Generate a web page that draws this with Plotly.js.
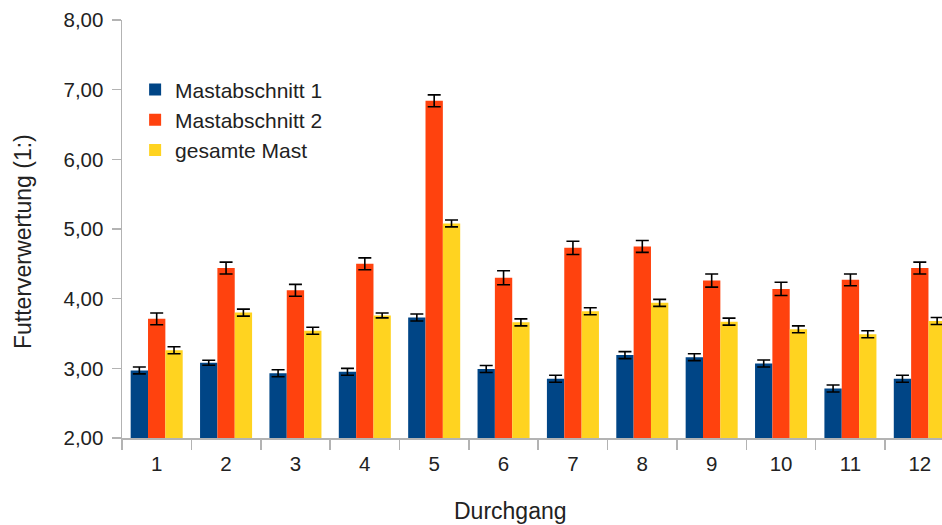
<!DOCTYPE html>
<html>
<head>
<meta charset="utf-8">
<script src="https://cdn.plot.ly/plotly-3.0.1.min.js"></script>
<style>html,body{margin:0;padding:0;background:#fff;}#chart{width:942px;height:525px;}</style>
</head>
<body>
<div id="chart"></div>
<script>
// Data
const categories = ['1','2','3','4','5','6','7','8','9','10','11','12'];
const seriesNames = ['Mastabschnitt 1', 'Mastabschnitt 2', 'gesamte Mast'];
const mast1 = [2.97, 3.08, 2.93, 2.95, 3.73, 2.99, 2.85, 3.19, 3.16, 3.07, 2.71, 2.85];
const mast1Err = [0.05, 0.035, 0.05, 0.05, 0.05, 0.05, 0.05, 0.05, 0.05, 0.05, 0.05, 0.05];
const mast2 = [3.71, 4.44, 4.12, 4.50, 6.84, 4.30, 4.73, 4.75, 4.26, 4.14, 4.27, 4.44];
const mast2Err = [0.085, 0.085, 0.085, 0.085, 0.085, 0.1, 0.095, 0.085, 0.095, 0.095, 0.085, 0.085];
const gesamt = [3.26, 3.80, 3.54, 3.76, 5.08, 3.66, 3.82, 3.94, 3.67, 3.56, 3.49, 3.68];
const gesamtErr = [0.05, 0.05, 0.05, 0.035, 0.05, 0.05, 0.05, 0.05, 0.05, 0.05, 0.05, 0.05];
const colors = ['#004586', '#ff420e', '#ffd320'];
const yTitle = 'Futterverwertung (1:)';
const xTitle = 'Durchgang';

const FONT = 'Liberation Sans, Arial, sans-serif';
const values = [mast1, mast2, gesamt];
const errs = [mast1Err, mast2Err, gesamtErr];

const traces = values.map((v, i) => ({
  type: 'bar',
  name: seriesNames[i],
  x: categories,
  y: v,
  marker: {color: colors[i], line: {width: 0}},
  error_y: {type: 'data', array: errs[i], visible: true, color: '#000', thickness: 1.6, width: 6.5},
  hoverinfo: 'x+y+name'
}));

const layout = {
  width: 942, height: 525,
  margin: {l: 122, r: 0, t: 20, b: 87, pad: 0},
  paper_bgcolor: '#fff', plot_bgcolor: '#fff',
  separators: ',.',
  font: {family: FONT, size: 20, color: '#222'},
  barmode: 'group', bargap: 0.25, bargroupgap: 0,
  showlegend: true,
  legend: {
    x: 0.016, y: 0.882, xanchor: 'left', yanchor: 'top',
    font: {family: FONT, size: 21, color: '#222'},
    bgcolor: 'rgba(0,0,0,0)', borderwidth: 0, tracegroupgap: 0
  },
  xaxis: {
    type: 'category', range: [-0.5, 11.32],
    showgrid: false, zeroline: false,
    showline: true, linecolor: '#b3b3b3', linewidth: 1.5,
    ticks: 'outside', tickson: 'boundaries', ticklen: 10, tickcolor: '#b3b3b3', tickwidth: 1.5,
    tickfont: {family: FONT, size: 20.5, color: '#222'},
    ticklabelstandoff: 7,
    fixedrange: true
  },
  yaxis: {
    range: [2, 8], dtick: 1, tick0: 2, tickformat: '.2f',
    showgrid: false, zeroline: false,
    showline: true, linecolor: '#b3b3b3', linewidth: 1.5,
    ticks: 'outside', ticklen: 9, tickcolor: '#b3b3b3', tickwidth: 1.5,
    tickfont: {family: FONT, size: 20.5, color: '#222'},
    ticklabelstandoff: 4,
    fixedrange: true
  },
  annotations: [
    {text: xTitle, xref: 'paper', yref: 'paper', x: (510 - 122) / 820, y: (438 - 511) / 418,
     xanchor: 'center', yanchor: 'middle', showarrow: false,
     font: {family: FONT, size: 23, color: '#222'}},
    {text: yTitle, xref: 'paper', yref: 'paper', x: (23 - 122) / 820, y: (438 - 242) / 418,
     xanchor: 'center', yanchor: 'middle', showarrow: false, textangle: -90,
     font: {family: FONT, size: 23, color: '#222'}}
  ]
};

Plotly.newPlot('chart', traces, layout, {displayModeBar: false, staticPlot: true});
</script>
</body>
</html>
